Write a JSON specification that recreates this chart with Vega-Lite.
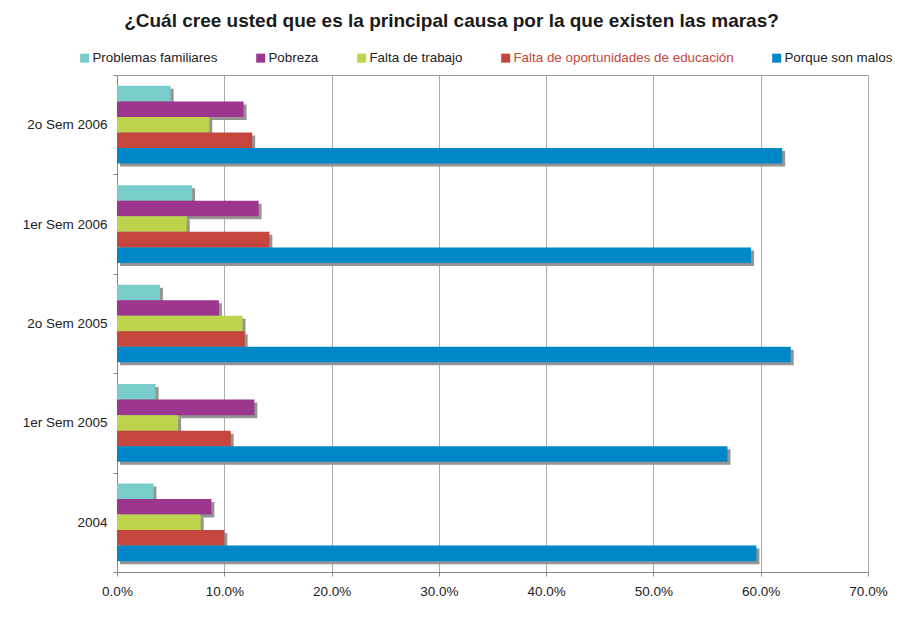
{
  "$schema": "https://vega.github.io/schema/vega-lite/v6.json",
  "width": 751,
  "height": 497,
  "autosize": {"type": "none"},
  "padding": {"left": 117, "top": 75, "right": 35, "bottom": 49},
  "background": "white",
  "title": {
    "text": "¿Cuál cree usted que es la principal causa por la que existen las maras?",
    "fontSize": 19,
    "fontWeight": "bold",
    "color": "#1a1a1a",
    "anchor": "middle",
    "frame": "group",
    "dx": -41,
    "offset": 20
  },
  "data": {
    "values": [
      {"periodo": "2o Sem 2006", "causa": "Problemas familiares", "valor": 0.050},
      {"periodo": "2o Sem 2006", "causa": "Pobreza", "valor": 0.118},
      {"periodo": "2o Sem 2006", "causa": "Falta de trabajo", "valor": 0.086},
      {"periodo": "2o Sem 2006", "causa": "Falta de oportunidades de educación", "valor": 0.126},
      {"periodo": "2o Sem 2006", "causa": "Porque son malos", "valor": 0.620},
      {"periodo": "1er Sem 2006", "causa": "Problemas familiares", "valor": 0.070},
      {"periodo": "1er Sem 2006", "causa": "Pobreza", "valor": 0.132},
      {"periodo": "1er Sem 2006", "causa": "Falta de trabajo", "valor": 0.065},
      {"periodo": "1er Sem 2006", "causa": "Falta de oportunidades de educación", "valor": 0.142},
      {"periodo": "1er Sem 2006", "causa": "Porque son malos", "valor": 0.591},
      {"periodo": "2o Sem 2005", "causa": "Problemas familiares", "valor": 0.040},
      {"periodo": "2o Sem 2005", "causa": "Pobreza", "valor": 0.095},
      {"periodo": "2o Sem 2005", "causa": "Falta de trabajo", "valor": 0.117},
      {"periodo": "2o Sem 2005", "causa": "Falta de oportunidades de educación", "valor": 0.119},
      {"periodo": "2o Sem 2005", "causa": "Porque son malos", "valor": 0.628},
      {"periodo": "1er Sem 2005", "causa": "Problemas familiares", "valor": 0.036},
      {"periodo": "1er Sem 2005", "causa": "Pobreza", "valor": 0.128},
      {"periodo": "1er Sem 2005", "causa": "Falta de trabajo", "valor": 0.057},
      {"periodo": "1er Sem 2005", "causa": "Falta de oportunidades de educación", "valor": 0.106},
      {"periodo": "1er Sem 2005", "causa": "Porque son malos", "valor": 0.569},
      {"periodo": "2004", "causa": "Problemas familiares", "valor": 0.034},
      {"periodo": "2004", "causa": "Pobreza", "valor": 0.088},
      {"periodo": "2004", "causa": "Falta de trabajo", "valor": 0.078},
      {"periodo": "2004", "causa": "Falta de oportunidades de educación", "valor": 0.100},
      {"periodo": "2004", "causa": "Porque son malos", "valor": 0.596}
    ]
  },
  "encoding": {
    "y": {
      "field": "periodo",
      "type": "nominal",
      "sort": ["2o Sem 2006", "1er Sem 2006", "2o Sem 2005", "1er Sem 2005", "2004"],
      "scale": {"paddingInner": 0, "paddingOuter": 0},
      "title": null,
      "axis": {
        "tickBand": "extent",
        "tickSize": 4,
        "tickColor": "#888888",
        "domainColor": "#888888",
        "labelFontSize": 13.5,
        "labelColor": "#222222",
        "labelPadding": 6,
        "grid": false
      }
    },
    "x": {
      "field": "valor",
      "type": "quantitative",
      "scale": {"domain": [0, 0.7], "nice": false},
      "title": null,
      "axis": {
        "values": [0, 0.1, 0.2, 0.3, 0.4, 0.5, 0.6, 0.7],
        "format": ".1%",
        "grid": true,
        "gridColor": "#ABABAB",
        "tickSize": 4,
        "tickColor": "#888888",
        "domainColor": "#888888",
        "labelFontSize": 13.5,
        "labelColor": "#222222",
        "labelPadding": 8,
        "labelFlush": false,
        "labelOverlap": false
      }
    }
  },
  "layer": [
    {
      "mark": {"type": "bar", "color": "#959595", "xOffset": 3, "x2Offset": 3},
      "encoding": {
        "yOffset": {
          "field": "causa",
          "sort": ["Problemas familiares", "Pobreza", "Falta de trabajo", "Falta de oportunidades de educación", "Porque son malos"],
          "scale": {"range": [3, 102.4], "paddingOuter": 0.7, "paddingInner": 0}
        }
      }
    },
    {
      "mark": {"type": "bar"},
      "encoding": {
        "yOffset": {
          "field": "causa",
          "sort": ["Problemas familiares", "Pobreza", "Falta de trabajo", "Falta de oportunidades de educación", "Porque son malos"],
          "scale": {"paddingOuter": 0.7, "paddingInner": 0}
        },
        "color": {
          "field": "causa",
          "type": "nominal",
          "sort": ["Problemas familiares", "Pobreza", "Falta de trabajo", "Falta de oportunidades de educación", "Porque son malos"],
          "scale": {
            "domain": ["Problemas familiares", "Pobreza", "Falta de trabajo", "Falta de oportunidades de educación", "Porque son malos"],
            "range": ["#78CCCA", "#9C368E", "#BED34C", "#C4463D", "#0087C7"]
          },
          "legend": {
            "title": null,
            "orient": "none",
            "legendX": -39,
            "legendY": -24,
            "direction": "horizontal",
            "padding": 0,
            "symbolType": "square",
            "symbolSize": 81,
            "symbolStrokeWidth": 0,
            "labelFontSize": 13.4,
            "labelOffset": 1,
            "labelLimit": 0,
            "columnPadding": 36,
            "labelColor": "#222222",
            "encode": {
              "labels": {
                "update": {
                  "fill": {"signal": "datum.label === 'Falta de oportunidades de educación' ? '#C4463D' : '#222222'"}
                }
              }
            }
          }
        }
      }
    }
  ],
  "resolve": {"scale": {"yOffset": "independent"}},
  "config": {
    "font": "Liberation Sans",
    "view": {"stroke": "#999999", "strokeWidth": 1}
  }
}
